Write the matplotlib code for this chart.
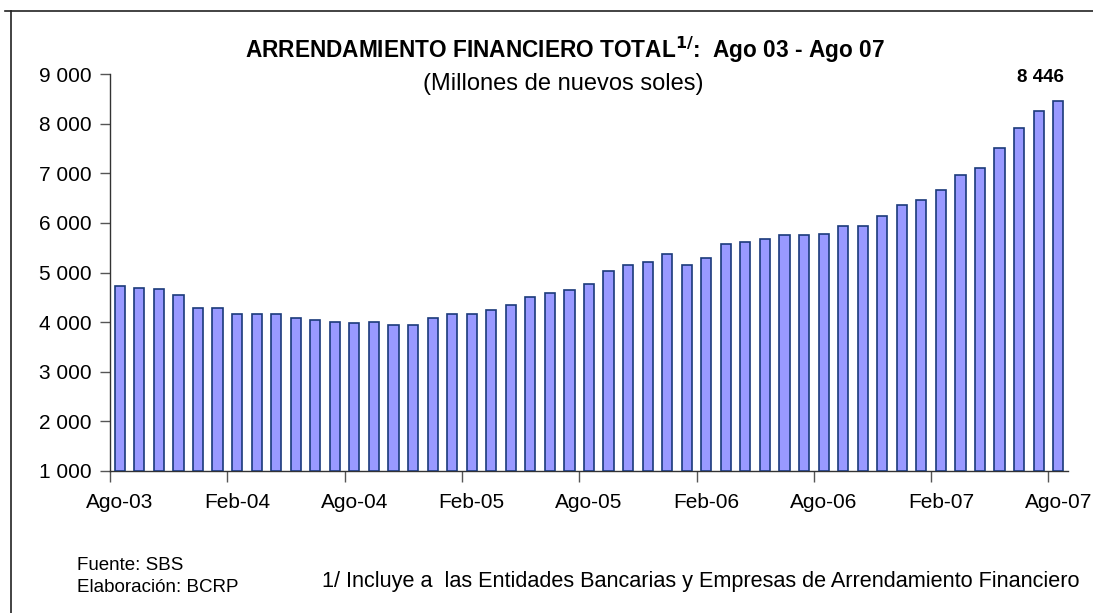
import matplotlib
matplotlib.use("Agg")
import matplotlib.pyplot as plt
from matplotlib.lines import Line2D
import numpy as np

plt.rcParams['font.family'] = ['Liberation Sans', 'DejaVu Sans']

# Monthly values Ago-03 .. Ago-07 (millones de nuevos soles)
values = [4730, 4695, 4660, 4540, 4280, 4280, 4165, 4165, 4165, 4090,
          4045, 4010, 3975, 4010, 3935, 3935, 4090, 4160, 4160, 4240,
          4355, 4510, 4585, 4655, 4765, 5035, 5150, 5220, 5375, 5150,
          5295, 5570, 5605, 5680, 5750, 5750, 5785, 5945, 5945, 6135,
          6355, 6470, 6660, 6965, 7115, 7500, 7910, 8250, 8446]
tick_labels = ["Ago-03", "Feb-04", "Ago-04", "Feb-05", "Ago-05",
               "Feb-06", "Ago-06", "Feb-07", "Ago-07"]
y_ticks = [1000, 2000, 3000, 4000, 5000, 6000, 7000, 8000, 9000]
last_label = "8 446"

W, H = 1093, 613
fig = plt.figure(figsize=(W / 100, H / 100), dpi=100)
ax = fig.add_axes([110 / W, 1 - 471 / H, (1068 - 110) / W, (471 - 74) / H])

x = np.arange(len(values))
ax.bar(x, np.array(values) - 1000, bottom=1000, width=0.52,
       color="#9999FF", edgecolor="#1A3A7A", linewidth=1.2, zorder=3)

ax.set_xlim(-0.5, len(values) - 0.5)
ax.set_ylim(1000, 9000)

ax.set_yticks(y_ticks)
ax.set_yticklabels([f"{v:,}".replace(",", " ") for v in y_ticks], fontsize=15)
ax.tick_params(axis='y', length=7, width=1, color="#555555", pad=6)

ax.set_xticks(np.arange(0, len(values), 6))
ax.set_xticklabels(tick_labels, fontsize=15)
ax.set_xticks(np.arange(-0.5, len(values), 6), minor=True)
ax.tick_params(axis='x', which='major', length=0, pad=16)
ax.tick_params(axis='x', which='minor', length=8, width=1, color="#555555")

for s in ["top", "right"]:
    ax.spines[s].set_visible(False)
for s in ["left", "bottom"]:
    ax.spines[s].set_color("#333333")
    ax.spines[s].set_linewidth(1.0)

fig.text(1040 / W, 1 - 78 / H, last_label, ha="center", va="center",
         fontsize=13.5, fontweight="bold")

fig.text(565 / W, 1 - 50 / H,
         r"ARRENDAMIENTO FINANCIERO TOTAL$^{\mathbf{1/}}$:  Ago 03 - Ago 07",
         ha="center", va="center", fontsize=16.3, fontweight="bold")
fig.text(563 / W, 1 - 84 / H, "(Millones de nuevos soles)",
         ha="center", va="center", fontsize=17)

fig.text(77 / W, 1 - 565 / H, "Fuente: SBS", ha="left", va="center", fontsize=13.5)
fig.text(77 / W, 1 - 588 / H, "Elaboración: BCRP", ha="left", va="center", fontsize=13.5)
fig.text(322 / W, 1 - 581 / H,
         "1/ Incluye a  las Entidades Bancarias y Empresas de Arrendamiento Financiero",
         ha="left", va="center", fontsize=15.6)

# figure border (left and top visible)
fig.add_artist(Line2D([11 / W, 11 / W], [0, 1 - 11 / H], transform=fig.transFigure,
                      color="#222222", linewidth=1.2))
fig.add_artist(Line2D([5 / W, 1], [1 - 11 / H, 1 - 11 / H], transform=fig.transFigure,
                      color="#222222", linewidth=1.2))

fig.savefig("out.png", dpi=100)
